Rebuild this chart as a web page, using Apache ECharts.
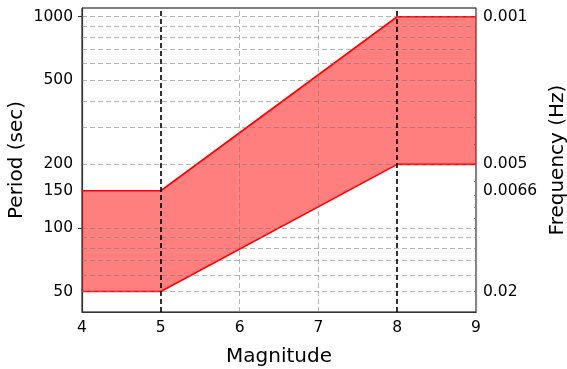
<!DOCTYPE html>
<html><head><meta charset="utf-8">
<script src="https://cdn.jsdelivr.net/npm/echarts@6/dist/echarts.min.js"></script>
<style>html,body{margin:0;padding:0;background:#fff}#c{width:567px;height:369px}</style>
</head><body><div id="c"></div>
<script>
// Data
const magnitudes = [4, 5, 8, 9];
const periodLower = [50, 50, 200, 200];
const periodUpper = [150, 150, 1000, 1000];
const periodTicks = [50, 100, 150, 200, 500, 1000];
const freqTickPeriods = [1000, 200, 150, 50];
const freqTickLabels = ['0.001', '0.005', '0.0066', '0.02'];
const gridPeriods = [50, 60, 70, 80, 90, 100, 200, 300, 400, 500, 600, 700, 800, 900, 1000];
const gridMagnitudes = [6, 7];
const markerMagnitudes = [5, 8];
const freqMinor = [0.002, 0.003, 0.004, 0.006, 0.007, 0.008, 0.009, 0.01, 0.02];

const FONT = 'DejaVu Sans';
const chart = echarts.init(document.getElementById('c'), null, {renderer: 'canvas'});
const yMin = 40, yMax = 1100;

const markData = [];
gridPeriods.forEach(v => markData.push([{xAxis: 4, yAxis: v}, {xAxis: 9, yAxis: v, lineStyle: {color: 'rgba(120,120,120,0.55)', width: 1, type: [5, 3]}}]));
gridMagnitudes.forEach(v => markData.push([{xAxis: v, yAxis: yMin}, {xAxis: v, yAxis: yMax, lineStyle: {color: 'rgba(120,120,120,0.55)', width: 1, type: [5, 3]}}]));
markerMagnitudes.forEach(v => markData.push([{xAxis: v, yAxis: yMin}, {xAxis: v, yAxis: yMax, lineStyle: {color: '#000', width: 1.6, type: [5, 3]}}]));

chart.setOption({
  animation: false,
  grid: {left: 82, right: 91, top: 8, bottom: 57, outerBoundsMode: 'none', containLabel: false,
    show: true, borderColor: '#000', borderWidth: 1, backgroundColor: 'transparent'},
  xAxis: {
    type: 'value', min: 4, max: 9, interval: 1,
    name: 'Magnitude', nameLocation: 'middle', nameGap: 35, nameMoveOverlap: false,
    nameTextStyle: {fontFamily: FONT, fontSize: 20, color: '#000'},
    axisLine: {show: true, lineStyle: {color: '#333', width: 1.2}},
    axisTick: {show: false},
    axisLabel: {fontFamily: FONT, fontSize: 15.5, color: '#000', margin: 8},
    splitLine: {show: false}
  },
  yAxis: [
    {
      type: 'log', logBase: 10, min: yMin, max: yMax, position: 'left',
      name: 'Period (sec)', nameLocation: 'middle', nameGap: 55, nameRotate: 90, nameMoveOverlap: false,
      nameTextStyle: {fontFamily: FONT, fontSize: 20, color: '#000'},
      axisLine: {show: true, lineStyle: {color: '#333', width: 1.2}},
      axisTick: {show: true, customValues: [100, 1000], length: 4, lineStyle: {color: '#333'}},
      axisLabel: {customValues: periodTicks, fontFamily: FONT, fontSize: 15.5, color: '#000', margin: 9,
        formatter: v => String(Math.round(v))},
      splitLine: {show: false}
    },
    {
      type: 'log', logBase: 10, min: yMin, max: yMax, position: 'right',
      name: 'Frequency (Hz)', nameLocation: 'middle', nameGap: 72, nameRotate: 90, nameMoveOverlap: false,
      nameTextStyle: {fontFamily: FONT, fontSize: 20, color: '#000'},
      axisLine: {show: true, lineStyle: {color: '#888', width: 1.2}},
      axisTick: {show: true, inside: true, customValues: freqMinor.map(f => 1 / f), length: 2, lineStyle: {color: '#888'}},
      axisLabel: {customValues: freqTickPeriods, fontFamily: FONT, fontSize: 15.5, color: '#000', margin: 7,
        formatter: v => {
          let best = 0, d = Infinity;
          freqTickPeriods.forEach((p, i) => { const dd = Math.abs(p - v); if (dd < d) { d = dd; best = i; } });
          return freqTickLabels[best];
        }},
      splitLine: {show: false}
    }
  ],
  series: [
    {
      name: 'band', type: 'custom', coordinateSystem: 'cartesian2d', z: 1,
      data: [[magnitudes[0], periodLower[0]]],
      renderItem: (params, api) => {
        const pts = [];
        magnitudes.forEach((m, i) => pts.push(api.coord([m, periodUpper[i]])));
        for (let i = magnitudes.length - 1; i >= 0; i--) pts.push(api.coord([magnitudes[i], periodLower[i]]));
        return {type: 'polygon', shape: {points: pts}, style: {fill: 'rgba(255,0,0,0.5)', stroke: null}};
      }
    },
    {
      name: 'lower', type: 'line', symbol: 'none', z: 3,
      data: magnitudes.map((m, i) => [m, periodLower[i]]),
      lineStyle: {color: '#ff0000', width: 1.6}
    },
    {
      name: 'upper', type: 'line', symbol: 'none', z: 3,
      data: magnitudes.map((m, i) => [m, periodUpper[i]]),
      lineStyle: {color: '#ff0000', width: 1.6}
    },
    {
      name: 'grid', type: 'line', data: [], z: 5,
      markLine: {silent: true, symbol: ['none', 'none'], label: {show: false}, animation: false, data: markData}
    }
  ]
});
</script></body></html>
